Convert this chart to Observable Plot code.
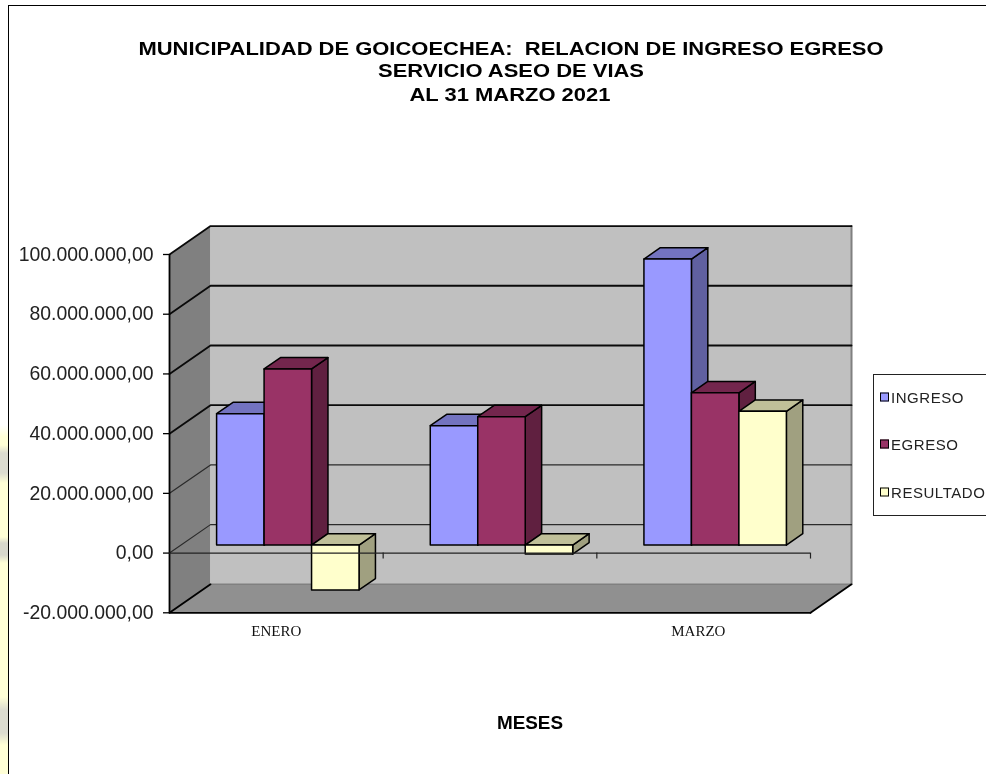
<!DOCTYPE html>
<html><head><meta charset="utf-8">
<script src="https://cdn.jsdelivr.net/npm/d3@7"></script>
<script src="https://cdn.jsdelivr.net/npm/@observablehq/plot@0.6"></script>
<style>
html,body{margin:0;padding:0;background:#fff;overflow:hidden}
#page{position:relative;width:986px;height:774px;overflow:hidden;font-family:"Liberation Sans",Arial,sans-serif;color:#000;filter:blur(0.3px)}
#strip{position:absolute;left:0;top:425px;width:8px;height:349px;
 background:linear-gradient(180deg,#fff 0,#ffffd6 12px,#ffffd6 20px,#dcdcd0 28px,#dcdcd0 48px,#ffffd6 58px,#ffffd6 112px,#d8d8cc 118px,#d8d8cc 130px,#ffffd6 138px,#ffffd6 272px,#dcdcd0 285px,#dcdcd0 308px,#ffffd6 320px)}
#frame{position:absolute;left:8px;top:5px;right:-4px;bottom:-4px;border-left:1.5px solid #000;border-top:1.5px solid #000}
#chart{position:absolute;left:0;top:0}
.t{position:absolute;white-space:pre;font-weight:bold;text-align:center;transform:translate(-50%,-50%) scaleX(1.22);font-size:18px}
.t.x{transform:translate(-50%,-50%) scaleX(1.05)}
#legend{position:absolute;left:873px;top:374px;width:120px;height:142px;border:1px solid #222;box-sizing:border-box;background:#fff}
.li{position:absolute;left:6px;font-size:15px;letter-spacing:0.55px;color:#222;white-space:pre;transform:translateY(-50%);display:flex;align-items:center;gap:2px}
.sw{display:inline-block;width:7px;height:7px;border:1.5px solid #000;box-sizing:content-box}
</style></head>
<body><div id="page">
<div id="strip"></div><div id="frame"></div><div id="chart"></div>
<div id="titles"></div><div id="legend"></div>
</div>
<script>
// ---- data ----
const months = ["ENERO", "FEBRERO", "MARZO"];
const monthLabels = ["ENERO", "", "MARZO"];
const labelCenters = [0.5, 1.5, 2.475];
const seriesNames = ["INGRESO", "EGRESO", "RESULTADO"];
const ingreso = [44000000, 40000000, 95800000];
const egreso = [59000000, 43000000, 51000000];
const resultado = [-15000000, -3000000, 44800000];
const yTicks = [-20000000, 0, 20000000, 40000000, 60000000, 80000000, 100000000];
const titleLines = ["MUNICIPALIDAD DE GOICOECHEA:  RELACION DE INGRESO EGRESO", "SERVICIO ASEO DE VIAS", "AL 31 MARZO 2021"];
const xTitle = "MESES";
const frontColors = ["#9999ff", "#993366", "#ffffcc"];
const topColors = ["#7373c0", "#73264d", "#c0c099"];
const sideColors = ["#6060a0", "#602040", "#a0a080"];

// ---- 3D projection, expressed in scale units ----
const depthX = 0.192, depthY = 9530000;   // full chart depth
const barZ0 = 0.28, barZ1 = 0.68;         // bar position inside the depth
const gapLeft = 1 / 6, barW = 2 / 9;
const yMin = yTicks[0], yMax = yTicks[yTicks.length - 1], xMax = months.length;
const P = (x, v, z) => ({x: x + z * depthX, y: v + z * depthY});
const poly = (id, fill, pts) => pts.map(([x, v, z]) => ({id, fill, ...P(x, v, z)}));

const bars = [];
[ingreso, egreso, resultado].forEach((vals, s) => {
  vals.forEach((v, i) => {
    const a = i + gapLeft + s * barW, b = a + barW;
    const hi = Math.max(v, 0), lo = Math.min(v, 0), k = `${i}-${s}`;
    bars.push(
      ...poly(k + "side", sideColors[s], [[b, lo, barZ0], [b, hi, barZ0], [b, hi, barZ1], [b, lo, barZ1]]),
      ...poly(k + "top", topColors[s], [[a, hi, barZ0], [b, hi, barZ0], [b, hi, barZ1], [a, hi, barZ1]]),
      ...poly(k + "front", frontColors[s], [[a, lo, barZ0], [b, lo, barZ0], [b, hi, barZ0], [a, hi, barZ0]])
    );
  });
});
const walls = [
  ...poly("side", "#808080", [[0, yMin, 0], [0, yMax, 0], [0, yMax, 1], [0, yMin, 1]]),
  ...poly("back", "#c0c0c0", [[0, yMin, 1], [xMax, yMin, 1], [xMax, yMax, 1], [0, yMax, 1]]),
  ...poly("floor", "#909090", [[0, yMin, 0], [xMax, yMin, 0], [xMax, yMin, 1], [0, yMin, 1]])
];
const gridOf = (ticks) => ticks.flatMap(v => [P(0, v, 0), P(0, v, 1), P(xMax, v, 1)].map(p => ({id: v, ...p})));
const gridStrong = gridOf([40000000, 60000000, 80000000, 100000000]);
const gridThin = gridOf([0, 20000000]);
const floorEdges = [
  {id: "l", ...P(0, yMin, 0)}, {id: "l", ...P(0, yMin, 1)},
  {id: "r", ...P(xMax, yMin, 0)}, {id: "r", ...P(xMax, yMin, 1)},
  {id: "f", ...P(0, yMin, 0)}, {id: "f", ...P(xMax, yMin, 0)}
];
const rightEdge = [P(xMax, yMin, 1), P(xMax, yMax, 1)];
const backBottom = [P(0, yMin, 1), P(xMax, yMin, 1)];

const fmt = d3.formatLocale({decimal: ",", thousands: ".", grouping: [3], currency: ["", ""], minus: "-"}).format(",.2f");

const chart = Plot.plot({
  width: 986, height: 774,
  marginLeft: 169, marginRight: 176, marginTop: 254, marginBottom: 161.7,
  style: {fontFamily: '"Liberation Sans",Arial,sans-serif', background: "transparent", overflow: "visible"},
  x: {type: "linear", domain: [0, xMax], axis: null},
  y: {type: "linear", domain: [yMin, yMax], axis: null},
  color: {type: "identity"},
  marks: [
    Plot.line(walls, {x: "x", y: "y", z: "id", fill: "fill", stroke: null, curve: "linear-closed"}),
    Plot.line(rightEdge, {x: "x", y: "y", stroke: "#808080", strokeWidth: 2}),
    Plot.line(backBottom, {x: "x", y: "y", stroke: "#808080", strokeWidth: 1.5}),
    Plot.line(gridStrong, {x: "x", y: "y", z: "id", stroke: "#0a0a0a", strokeWidth: 1.8}),
    Plot.line(gridThin, {x: "x", y: "y", z: "id", stroke: "#2a2a2a", strokeWidth: 1.2}),
    Plot.line(floorEdges, {x: "x", y: "y", z: "id", stroke: "#000", strokeWidth: 1.8}),
    Plot.ruleX([0], {y1: yMin, y2: yMax, stroke: "#000", strokeWidth: 1.8}),
    Plot.line(bars, {x: "x", y: "y", z: "id", fill: "fill", stroke: "#000", strokeWidth: 1.5, curve: "linear-closed"}),
    Plot.ruleY([0], {x1: 0, x2: xMax, stroke: "#222", strokeWidth: 1.2}),
    Plot.ruleX(months.map((m, i) => i + 1), {y1: 0, y2: -2000000, stroke: "#222", strokeWidth: 1.2}),
    Plot.axisY({ticks: yTicks, tickFormat: fmt, tickSize: 6, tickPadding: 10, fontSize: 19.4, fill: "#222", stroke: "#000", strokeWidth: 1.3, label: null}),
    Plot.axisX({ticks: labelCenters, tickFormat: (d) => monthLabels[labelCenters.indexOf(d)], tickSize: 0, tickPadding: 13, fontSize: 15, fontFamily: '"Liberation Serif",serif', fill: "#111", label: null})
  ]
});
document.getElementById("chart").append(chart);

// ---- title block and legend ----
const titles = document.getElementById("titles");
[[titleLines[0], 510.5, 49], [titleLines[1], 510.5, 71], [titleLines[2], 509.5, 94.5], [xTitle, 530, 723]].forEach(([txt, x, y], i) => {
  const d = document.createElement("div");
  d.className = i === 3 ? "t x" : "t"; d.textContent = txt;
  d.style.left = x + "px"; d.style.top = y + "px";
  titles.append(d);
});
const legend = document.getElementById("legend");
seriesNames.forEach((name, s) => {
  const li = document.createElement("div");
  li.className = "li"; li.style.top = (21.5 + s * 47.5) + "px";
  li.innerHTML = `<span class="sw" style="background:${frontColors[s]}"></span><span>${name}</span>`;
  legend.append(li);
});
</script>
</body></html>
